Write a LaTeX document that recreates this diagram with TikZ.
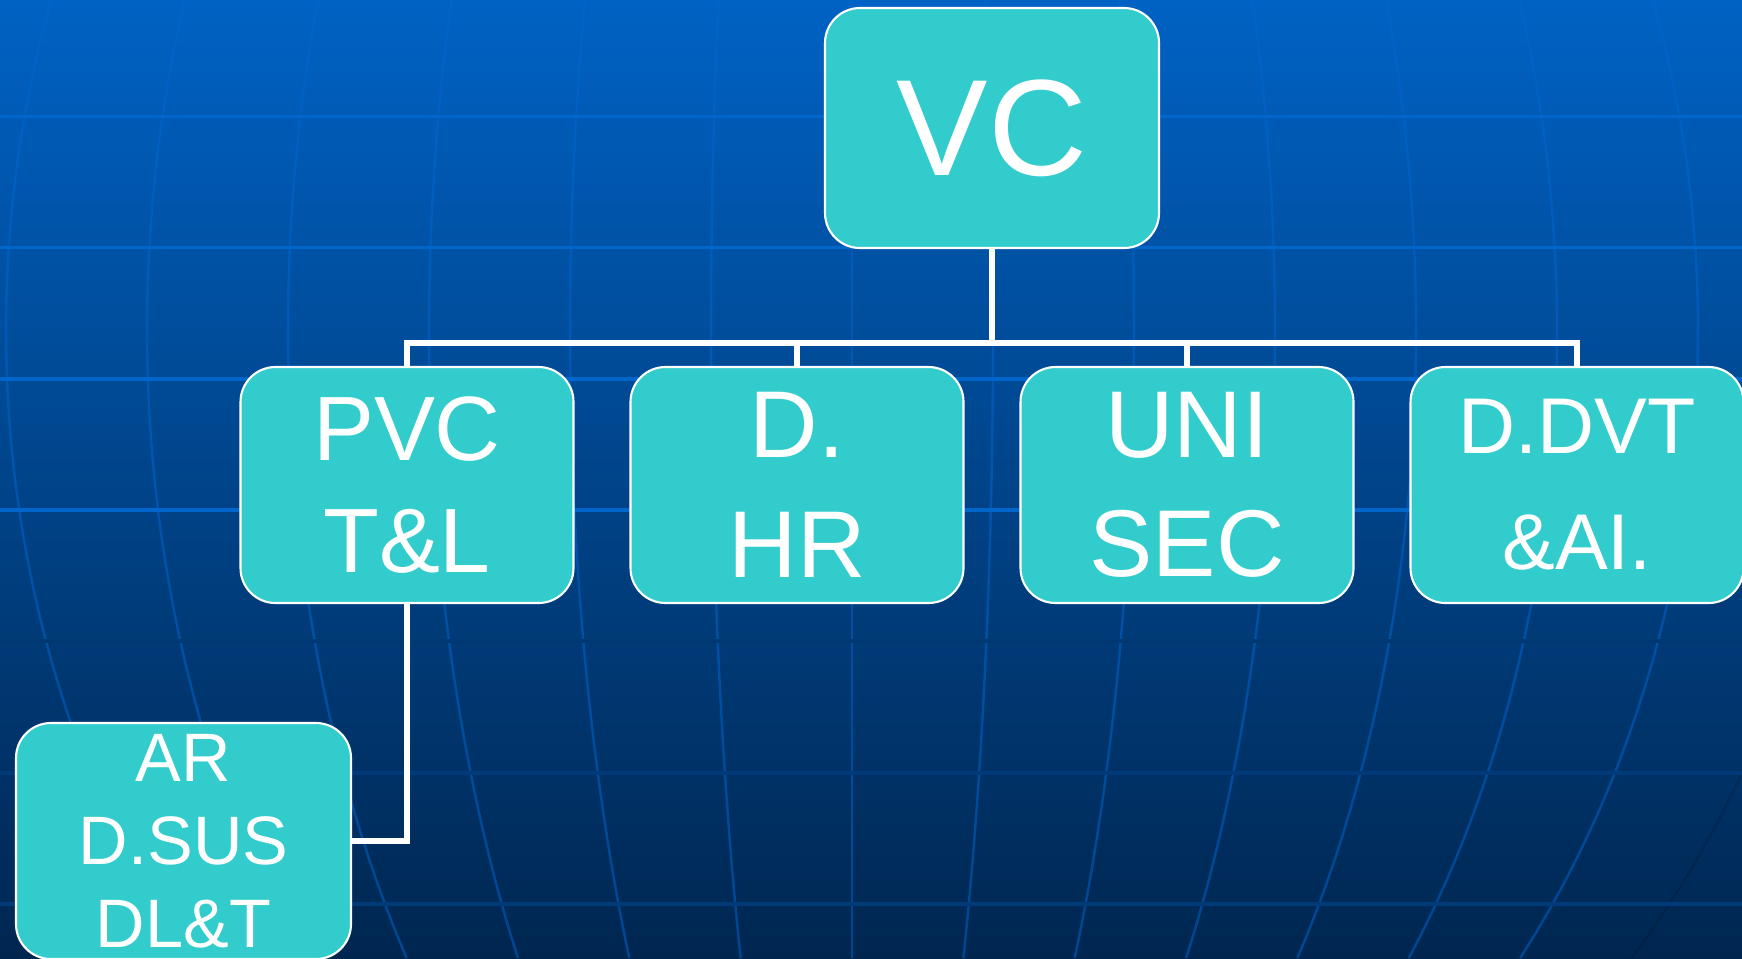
\documentclass[tikz,border=0pt]{standalone}
\usepackage{fontspec}
\setmainfont{Liberation Sans}
\usetikzlibrary{positioning,calc}
\definecolor{unit}{RGB}{51,204,204}
\definecolor{bgtop}{RGB}{0,98,196}
\definecolor{bgmid}{RGB}{0,66,134}
\definecolor{bgbottom}{RGB}{0,38,80}
\definecolor{grid}{RGB}{0,102,207}
\definecolor{rule}{RGB}{0,102,204}
\definecolor{gap}{RGB}{0,56,116}
\definecolor{dim}{RGB}{0,58,120}
\tikzset{
    base/.style={
        draw=white,
        fill=unit,
        text=white,
        line width=0.6pt,
        rounded corners=0.35cm,
        align=center,
        inner sep=0pt,
    },
    % Vice-chancellor
    head/.style={
        base,
        minimum width=3.34cm,
        minimum height=2.4cm,
        font=\fontsize{39}{44}\selectfont,
    },
    % Directorates
    dept/.style={
        base,
        minimum width=3.33cm,
        minimum height=2.36cm,
        font=\fontsize{26}{32}\selectfont,
    },
    % Under PVC
    sub/.style={
        base,
        minimum width=3.35cm,
        minimum height=2.36cm,
        font=\fontsize{19.5}{23.6}\selectfont,
    },
    link/.style={
        draw=white,
        line width=1.5pt,
        line join=miter,
    },
    meridian/.style={
        draw=grid,
        line width=0.7pt,
        opacity=0.5,
    },
    parallel/.style={
        line width=0.9pt,
    },
}

\begin{document}
\begin{tikzpicture}
    % Background
    \useasboundingbox (0,0) rectangle (17.42,-9.58);
    \shade[top color=bgtop, middle color=bgmid, bottom color=bgbottom] (0,0) rectangle (17.42,-9.58);
    \foreach \k in {-6,...,6}
        \draw[meridian] plot[domain=0:9.58, samples=40, variable=\t] ({8.52+\k*1.41*sqrt(1-((\t-3.3)/10.24)^2)}, {-\t});
    \draw[meridian, draw=black, opacity=0.12] plot[domain=0:9.58, samples=40, variable=\t] ({8.52+7*1.41*sqrt(1-((\t-3.3)/10.24)^2)}, {-\t});
    \foreach \y/\c in {1.165/rule, 2.475/rule, 3.79/rule, 5.10/rule, 6.41/gap, 7.73/dim, 9.04/dim}
        \draw[parallel, draw=\c] (0,-\y) -- (17.42,-\y);

    % Boxes
    \node[head] (vc) at (9.92,-1.28) {VC};
    \node[dept] (pvc) at (4.07,-4.85) {PVC\\T\&L};
    \node[dept, font=\fontsize{27}{34}\selectfont] (hr) at (7.97,-4.85) {D.\\HR};
    \node[dept, font=\fontsize{27}{34}\selectfont] (sec) at (11.87,-4.85) {UNI\\SEC};
    \node[dept, font=\fontsize{22.5}{33}\selectfont] (dvt) at (15.77,-4.85) {D.DVT\\\&AI.};
    \node[sub] (ar) at (1.835,-8.41) {AR\\D.SUS\\DL\&T};

    % Connectors
    \coordinate (bus) at (0,-3.43);
    \draw[link] (vc.south) -- (vc.south |- bus);
    \draw[link] (pvc.north) -- (pvc.north |- bus) -- (dvt.north |- bus) -- (dvt.north);
    \draw[link] (hr.north) -- (hr.north |- bus);
    \draw[link] (sec.north) -- (sec.north |- bus);
    \draw[link] (pvc.south) |- (ar.east);
\end{tikzpicture}
\end{document}
